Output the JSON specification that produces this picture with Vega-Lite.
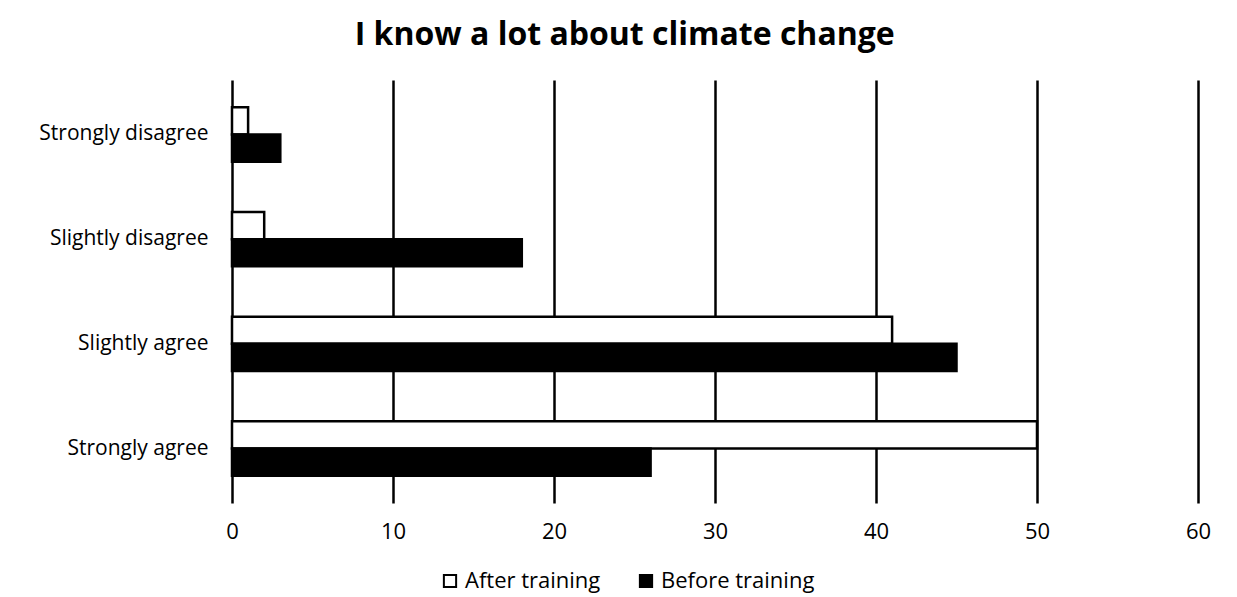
{
  "$schema": "https://vega.github.io/schema/vega-lite/v6.json",
  "width": 966,
  "height": 423,
  "autosize": "none",
  "padding": {"left": 232, "top": 80, "right": 39, "bottom": 94},
  "background": "white",
  "title": {
    "text": "I know a lot about climate change",
    "font": "Open Sans",
    "fontSize": 32,
    "fontWeight": "bold",
    "color": "black",
    "anchor": "middle",
    "frame": "bounds",
    "offset": 28
  },
  "data": {
    "values": [
      {"category": "Strongly disagree", "group": "After training", "value": 1},
      {"category": "Strongly disagree", "group": "Before training", "value": 3},
      {"category": "Slightly disagree", "group": "After training", "value": 2},
      {"category": "Slightly disagree", "group": "Before training", "value": 18},
      {"category": "Slightly agree", "group": "After training", "value": 41},
      {"category": "Slightly agree", "group": "Before training", "value": 45},
      {"category": "Strongly agree", "group": "After training", "value": 50},
      {"category": "Strongly agree", "group": "Before training", "value": 26}
    ]
  },
  "mark": {"type": "bar", "stroke": "black", "strokeWidth": 2.5},
  "encoding": {
    "y": {
      "field": "category",
      "type": "nominal",
      "sort": ["Strongly disagree", "Slightly disagree", "Slightly agree", "Strongly agree"],
      "scale": {"paddingInner": 0.48, "paddingOuter": 0.26},
      "axis": {
        "title": null,
        "domain": false,
        "ticks": false,
        "labelFont": "Open Sans",
        "labelFontSize": 21,
        "labelLimit": 300,
        "labelColor": "black",
        "labelPadding": 24
      }
    },
    "yOffset": {
      "field": "group",
      "type": "nominal",
      "sort": ["After training", "Before training"]
    },
    "x": {
      "field": "value",
      "type": "quantitative",
      "scale": {"domain": [0, 60], "nice": false},
      "axis": {
        "title": null,
        "values": [0, 10, 20, 30, 40, 50, 60],
        "domain": false,
        "ticks": false,
        "grid": true,
        "gridColor": "black",
        "gridWidth": 2.5,
        "gridOpacity": 1,
        "labelFlush": false,
        "labelFont": "Open Sans",
        "labelFontSize": 22,
        "labelColor": "black",
        "labelPadding": 18
      }
    },
    "fill": {
      "field": "group",
      "type": "nominal",
      "scale": {"domain": ["After training", "Before training"], "range": ["white", "black"]},
      "legend": {
        "title": null,
        "orient": "none",
        "legendX": 207,
        "legendY": 490,
        "direction": "horizontal",
        "symbolType": "square",
        "symbolSize": 150,
        "symbolStrokeColor": "black",
        "symbolStrokeWidth": 2,
        "labelFont": "Open Sans",
        "labelFontSize": 22,
        "labelColor": "black",
        "columnPadding": 34
      }
    }
  },
  "config": {"view": {"stroke": null}}
}
